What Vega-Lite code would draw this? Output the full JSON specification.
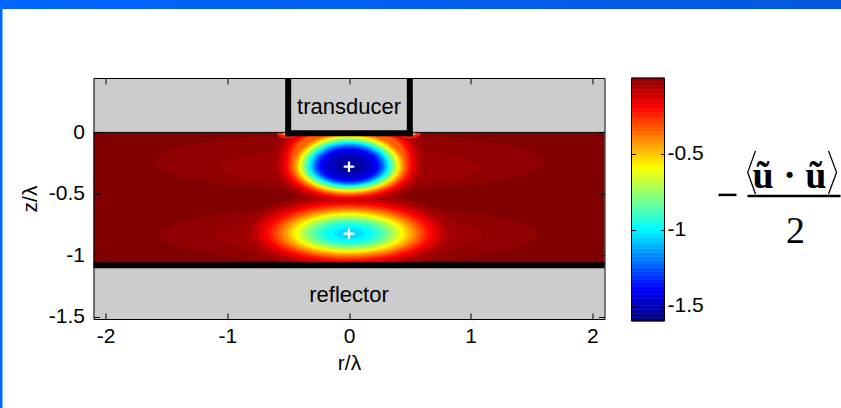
{
  "$schema": "https://vega.github.io/schema/vega-lite/v6.json",
  "padding": 0,
  "background": "white",
  "spacing": 0,
  "config": {
    "font": "Liberation Sans",
    "view": {"stroke": null},
    "axis": {
      "labelFont": "Liberation Sans", "labelFontSize": 21, "labelColor": "#000000",
      "titleFont": "Liberation Sans", "titleFontSize": 21, "titleFontWeight": "normal", "titleColor": "#000000",
      "domainColor": "#000000", "tickColor": "#000000", "grid": false, "labelFlush": false, "labelOverlap": false
    }
  },
  "vconcat": [
    {
      "width": 841, "height": 9,
      "data": {"values": [{"part": "slide header"}]},
      "mark": {"type": "rect", "color": {"gradient": "linear", "stops": [{"offset": 0, "color": "#0066ff"}, {"offset": 1, "color": "#0058dc"}]}},
      "encoding": {
        "x": {"datum": 0, "type": "quantitative", "scale": {"domain": [0, 1], "nice": false}, "axis": null},
        "x2": {"datum": 1},
        "y": {"datum": 0, "type": "quantitative", "scale": {"domain": [0, 1], "nice": false}, "axis": null},
        "y2": {"datum": 1}
      }
    },
    {
      "spacing": 15.5,
      "hconcat": [
        {
          "width": 2.5, "height": 399,
          "data": {"values": [{"part": "slide edge"}]},
          "mark": {"type": "rect", "color": "#0066ff"},
          "encoding": {
            "x": {"datum": 0, "type": "quantitative", "scale": {"domain": [0, 1], "nice": false}, "axis": null},
            "x2": {"datum": 1},
            "y": {"datum": 0, "type": "quantitative", "scale": {"domain": [0, 1], "nice": false}, "axis": null},
            "y2": {"datum": 1}
          }
        },
        {
          "spacing": 67,
          "vconcat": [
            {
              "width": 1, "height": 1,
              "data": {"values": [{"part": "spacer"}]},
              "mark": {"type": "rect", "color": "#ffffff"},
              "encoding": {
                "x": {"datum": 0, "type": "quantitative", "scale": {"domain": [0, 1], "nice": false}, "axis": null},
                "x2": {"datum": 1},
                "y": {"datum": 0, "type": "quantitative", "scale": {"domain": [0, 1], "nice": false}, "axis": null},
                "y2": {"datum": 1}
              }
            },
            {
              "spacing": 25,
              "hconcat": [
                {
                  "width": 511, "height": 241,
                  "layer": [
                    {
                      "data": {"values": [{"part": "water", "r0": -2.1, "r1": 2.1, "z0": -1.08, "z1": 0, "v": 0}]},
                      "mark": {"type": "rect"},
                      "encoding": {
                        "x": {"field": "r0", "type": "quantitative", "scale": {"domain": [-2.1, 2.1], "nice": false, "zero": false}, "axis": null},
                        "x2": {"field": "r1"},
                        "y": {"field": "z0", "type": "quantitative", "scale": {"domain": [-1.517, 0.442], "nice": false, "zero": false}, "axis": null},
                        "y2": {"field": "z1"},
                        "color": {"field": "v", "type": "quantitative", "scale": {"domain": [-1.6, -1.4, -1.0, -0.6, -0.2, 0], "range": ["#000080", "#0000ff", "#00ffff", "#ffff00", "#ff0000", "#800000"], "interpolate": "rgb", "clamp": true, "nice": false, "zero": false}, "legend": null}
                      }
                    },
                    {
                      "data": {"values": [
                        {"g": "wide", "r": 0, "zc": -0.24, "rx": 1.6, "v": -0.025},
                        {"g": "wide", "r": 0, "zc": -0.83, "rx": 1.55, "v": -0.025},
                        {"g": "wide", "r": 0, "zc": -0.28, "rx": 1.05, "v": -0.045},
                        {"g": "wide", "r": 0, "zc": -0.83, "rx": 1.1, "v": -0.045},
                        {"g": "topsq", "r": 0, "zc": -0.275, "rx": 0.64, "v": -0.05},
                        {"g": "bot", "r": 0, "zc": -0.825, "rx": 0.896, "v": -0.05},
                        {"g": "topsq", "r": 0, "zc": -0.275, "rx": 0.585, "v": -0.1},
                        {"g": "bot", "r": 0, "zc": -0.825, "rx": 0.805, "v": -0.1},
                        {"g": "topsq", "r": 0, "zc": -0.275, "rx": 0.55, "v": -0.15},
                        {"g": "bot", "r": 0, "zc": -0.825, "rx": 0.745, "v": -0.15},
                        {"g": "topsq", "r": 0, "zc": -0.275, "rx": 0.525, "v": -0.2},
                        {"g": "bot", "r": 0, "zc": -0.825, "rx": 0.697, "v": -0.2},
                        {"g": "topsq", "r": 0, "zc": -0.275, "rx": 0.505, "v": -0.25},
                        {"g": "bot", "r": 0, "zc": -0.825, "rx": 0.657, "v": -0.25},
                        {"g": "top", "r": -0.5, "zc": -0.005, "rx": 0.09, "v": -0.25},
                        {"g": "top", "r": 0.5, "zc": -0.005, "rx": 0.09, "v": -0.25},
                        {"g": "topsq", "r": 0, "zc": -0.275, "rx": 0.487, "v": -0.3},
                        {"g": "bot", "r": 0, "zc": -0.825, "rx": 0.622, "v": -0.3},
                        {"g": "topsq", "r": 0, "zc": -0.275, "rx": 0.471, "v": -0.35},
                        {"g": "bot", "r": 0, "zc": -0.825, "rx": 0.59, "v": -0.35},
                        {"g": "top", "r": 0, "zc": -0.275, "rx": 0.457, "v": -0.4},
                        {"g": "bot", "r": 0, "zc": -0.825, "rx": 0.559, "v": -0.4},
                        {"g": "top", "r": 0, "zc": -0.275, "rx": 0.444, "v": -0.45},
                        {"g": "bot", "r": 0, "zc": -0.825, "rx": 0.531, "v": -0.45},
                        {"g": "top", "r": -0.5, "zc": -0.005, "rx": 0.05, "v": -0.45},
                        {"g": "top", "r": 0.5, "zc": -0.005, "rx": 0.05, "v": -0.45},
                        {"g": "top", "r": 0, "zc": -0.275, "rx": 0.432, "v": -0.5},
                        {"g": "bot", "r": 0, "zc": -0.825, "rx": 0.503, "v": -0.5},
                        {"g": "top", "r": 0, "zc": -0.275, "rx": 0.421, "v": -0.55},
                        {"g": "bot", "r": 0, "zc": -0.825, "rx": 0.476, "v": -0.55},
                        {"g": "top", "r": 0, "zc": -0.275, "rx": 0.41, "v": -0.6},
                        {"g": "bot", "r": 0, "zc": -0.825, "rx": 0.45, "v": -0.6},
                        {"g": "top", "r": 0, "zc": -0.275, "rx": 0.4, "v": -0.65},
                        {"g": "bot", "r": 0, "zc": -0.825, "rx": 0.423, "v": -0.65},
                        {"g": "top", "r": 0, "zc": -0.275, "rx": 0.39, "v": -0.7},
                        {"g": "bot", "r": 0, "zc": -0.825, "rx": 0.396, "v": -0.7},
                        {"g": "top", "r": 0, "zc": -0.275, "rx": 0.38, "v": -0.75},
                        {"g": "bot", "r": 0, "zc": -0.825, "rx": 0.368, "v": -0.75},
                        {"g": "top", "r": 0, "zc": -0.275, "rx": 0.37, "v": -0.8},
                        {"g": "bot", "r": 0, "zc": -0.825, "rx": 0.34, "v": -0.8},
                        {"g": "top", "r": 0, "zc": -0.275, "rx": 0.36, "v": -0.85},
                        {"g": "bot", "r": 0, "zc": -0.825, "rx": 0.309, "v": -0.85},
                        {"g": "top", "r": 0, "zc": -0.275, "rx": 0.35, "v": -0.9},
                        {"g": "bot", "r": 0, "zc": -0.825, "rx": 0.276, "v": -0.9},
                        {"g": "top", "r": 0, "zc": -0.275, "rx": 0.34, "v": -0.95},
                        {"g": "bot", "r": 0, "zc": -0.825, "rx": 0.238, "v": -0.95},
                        {"g": "top", "r": 0, "zc": -0.275, "rx": 0.33, "v": -1.0},
                        {"g": "bot", "r": 0, "zc": -0.825, "rx": 0.193, "v": -1.0},
                        {"g": "top", "r": 0, "zc": -0.275, "rx": 0.32, "v": -1.05},
                        {"g": "bot", "r": 0, "zc": -0.825, "rx": 0.127, "v": -1.05},
                        {"g": "top", "r": 0, "zc": -0.275, "rx": 0.31, "v": -1.1},
                        {"g": "top", "r": 0, "zc": -0.275, "rx": 0.3, "v": -1.15},
                        {"g": "top", "r": 0, "zc": -0.275, "rx": 0.29, "v": -1.2},
                        {"g": "top", "r": 0, "zc": -0.275, "rx": 0.28, "v": -1.25},
                        {"g": "top", "r": 0, "zc": -0.275, "rx": 0.268, "v": -1.3},
                        {"g": "top", "r": 0, "zc": -0.275, "rx": 0.255, "v": -1.35},
                        {"g": "top", "r": 0, "zc": -0.275, "rx": 0.24, "v": -1.4},
                        {"g": "top", "r": 0, "zc": -0.275, "rx": 0.215, "v": -1.45},
                        {"g": "top", "r": 0, "zc": -0.275, "rx": 0.18, "v": -1.5},
                        {"g": "top", "r": 0, "zc": -0.275, "rx": 0.12, "v": -1.55}
                      ]},
                      "mark": {"type": "point", "filled": true, "opacity": 1, "strokeWidth": 0, "clip": true},
                      "encoding": {
                        "x": {"field": "r", "type": "quantitative", "scale": {"domain": [-2.1, 2.1], "nice": false, "zero": false}, "axis": null},
                        "y": {"field": "zc", "type": "quantitative", "scale": {"domain": [-1.517, 0.442], "nice": false, "zero": false}, "axis": null},
                        "size": {"field": "rx", "type": "quantitative", "scale": {"type": "pow", "exponent": 2, "domain": [0, 1], "range": [0, 59215], "nice": false}, "legend": null},
                        "shape": {"field": "g", "type": "nominal", "scale": {"domain": ["wide", "topsq", "top", "bot"], "range": ["M-1,0A1,0.15 0 0 1 1,0A1,0.15 0 0 1 -1,0Z", "M-1,0C-1,-0.45 -0.75,-0.6 0,-0.6C0.75,-0.6 1,-0.45 1,0A1,0.5 0 0 1 -1,0Z", "M-1,0A1,0.6 0 0 1 1,0A1,0.5 0 0 1 -1,0Z", "M-1,0A1,0.37 0 0 1 1,0A1,0.33 0 0 1 -1,0Z"]}, "legend": null},
                        "color": {"field": "v", "type": "quantitative", "scale": {"domain": [-1.6, -1.4, -1.0, -0.6, -0.2, 0], "range": ["#000080", "#0000ff", "#00ffff", "#ffff00", "#ff0000", "#800000"], "interpolate": "rgb", "clamp": true, "nice": false, "zero": false}, "legend": null},
                        "order": {"field": "v", "type": "quantitative", "sort": "descending"}
                      }
                    },
                    {
                      "data": {"values": [
                        {"part": "above", "r0": -2.1, "r1": 2.1, "z0": 0, "z1": 0.442},
                        {"part": "below", "r0": -2.1, "r1": 2.1, "z0": -1.517, "z1": -1.08}
                      ]},
                      "mark": {"type": "rect", "color": "#cccccc"},
                      "encoding": {
                        "x": {"field": "r0", "type": "quantitative", "scale": {"domain": [-2.1, 2.1], "nice": false, "zero": false},
                          "axis": {"orient": "bottom", "values": [-2, -1, 0, 1, 2], "tickSize": -6, "labelPadding": 12, "title": "r/λ", "titlePadding": 6, "labelExpr": "toString(datum.value)", "zindex": 1}},
                        "x2": {"field": "r1"},
                        "y": {"field": "z0", "type": "quantitative", "scale": {"domain": [-1.517, 0.442], "nice": false, "zero": false},
                          "axis": {"orient": "left", "values": [-1.5, -1, -0.5, 0], "tickSize": -6, "labelPadding": 15, "title": "z/λ", "titlePadding": 8, "labelExpr": "toString(datum.value)", "zindex": 1}},
                        "y2": {"field": "z1"}
                      }
                    },
                    {
                      "data": {"values": [{"part": "boundary", "r0": -2.1, "r1": 2.1, "z": 0}]},
                      "mark": {"type": "rule", "color": "#000000", "strokeWidth": 1},
                      "encoding": {
                        "x": {"field": "r0", "type": "quantitative", "scale": {"domain": [-2.1, 2.1], "nice": false, "zero": false}, "axis": null},
                        "x2": {"field": "r1"},
                        "y": {"field": "z", "type": "quantitative", "scale": {"domain": [-1.517, 0.442], "nice": false, "zero": false}, "axis": null}
                      }
                    },
                    {
                      "data": {"values": [
                        {"part": "transducer left", "r0": -0.5, "r1": -0.5, "z0": -0.008, "z1": 0.442},
                        {"part": "transducer right", "r0": 0.5, "r1": 0.5, "z0": -0.008, "z1": 0.442},
                        {"part": "transducer face", "r0": -0.5, "r1": 0.5, "z0": -0.008, "z1": -0.008},
                        {"part": "reflector", "r0": -2.1, "r1": 2.1, "z0": -1.081, "z1": -1.081}
                      ]},
                      "mark": {"type": "rule", "color": "#000000", "strokeWidth": 6, "strokeCap": "square", "clip": true},
                      "encoding": {
                        "x": {"field": "r0", "type": "quantitative", "scale": {"domain": [-2.1, 2.1], "nice": false, "zero": false},
                          "axis": {"orient": "top", "values": [-2, -1, 0, 1, 2], "tickSize": -6, "labels": false, "title": null, "zindex": 1}},
                        "x2": {"field": "r1"},
                        "y": {"field": "z0", "type": "quantitative", "scale": {"domain": [-1.517, 0.442], "nice": false, "zero": false},
                          "axis": {"orient": "right", "values": [-1.5, -1, -0.5, 0], "tickSize": -6, "labels": false, "title": null, "zindex": 1}},
                        "y2": {"field": "z1"}
                      }
                    },
                    {
                      "data": {"values": [{"r": 0, "z": -0.279}, {"r": 0, "z": -0.824}]},
                      "mark": {"type": "point", "shape": "M-1,0L1,0M0,-1L0,1", "size": 112, "filled": false, "stroke": "#ffffff", "strokeWidth": 2.3, "opacity": 1},
                      "encoding": {
                        "x": {"field": "r", "type": "quantitative", "scale": {"domain": [-2.1, 2.1], "nice": false, "zero": false}, "axis": null},
                        "y": {"field": "z", "type": "quantitative", "scale": {"domain": [-1.517, 0.442], "nice": false, "zero": false}, "axis": null}
                      }
                    },
                    {
                      "data": {"values": [{"label": "transducer", "r": 0, "z": 0.152}, {"label": "reflector", "r": 0, "z": -1.377}]},
                      "mark": {"type": "text", "font": "Liberation Sans", "fontSize": 22, "color": "#000000", "baseline": "alphabetic", "align": "center"},
                      "encoding": {
                        "x": {"field": "r", "type": "quantitative", "scale": {"domain": [-2.1, 2.1], "nice": false, "zero": false}, "axis": null},
                        "y": {"field": "z", "type": "quantitative", "scale": {"domain": [-1.517, 0.442], "nice": false, "zero": false}, "axis": null},
                        "text": {"field": "label"}
                      }
                    }
                  ],
                  "resolve": {"axis": {"x": "independent", "y": "independent"}}
                },
                {
                  "spacing": 10,
                  "hconcat": [
                    {
                      "width": 33, "height": 243,
                      "layer": [
                        {
                          "data": {"values": [
                            {"lo": -1.6, "hi": -1.575}, {"lo": -1.575, "hi": -1.55}, {"lo": -1.55, "hi": -1.525}, {"lo": -1.525, "hi": -1.5},
                            {"lo": -1.5, "hi": -1.475}, {"lo": -1.475, "hi": -1.45}, {"lo": -1.45, "hi": -1.425}, {"lo": -1.425, "hi": -1.4},
                            {"lo": -1.4, "hi": -1.375}, {"lo": -1.375, "hi": -1.35}, {"lo": -1.35, "hi": -1.325}, {"lo": -1.325, "hi": -1.3},
                            {"lo": -1.3, "hi": -1.275}, {"lo": -1.275, "hi": -1.25}, {"lo": -1.25, "hi": -1.225}, {"lo": -1.225, "hi": -1.2},
                            {"lo": -1.2, "hi": -1.175}, {"lo": -1.175, "hi": -1.15}, {"lo": -1.15, "hi": -1.125}, {"lo": -1.125, "hi": -1.1},
                            {"lo": -1.1, "hi": -1.075}, {"lo": -1.075, "hi": -1.05}, {"lo": -1.05, "hi": -1.025}, {"lo": -1.025, "hi": -1},
                            {"lo": -1, "hi": -0.975}, {"lo": -0.975, "hi": -0.95}, {"lo": -0.95, "hi": -0.925}, {"lo": -0.925, "hi": -0.9},
                            {"lo": -0.9, "hi": -0.875}, {"lo": -0.875, "hi": -0.85}, {"lo": -0.85, "hi": -0.825}, {"lo": -0.825, "hi": -0.8},
                            {"lo": -0.8, "hi": -0.775}, {"lo": -0.775, "hi": -0.75}, {"lo": -0.75, "hi": -0.725}, {"lo": -0.725, "hi": -0.7},
                            {"lo": -0.7, "hi": -0.675}, {"lo": -0.675, "hi": -0.65}, {"lo": -0.65, "hi": -0.625}, {"lo": -0.625, "hi": -0.6},
                            {"lo": -0.6, "hi": -0.575}, {"lo": -0.575, "hi": -0.55}, {"lo": -0.55, "hi": -0.525}, {"lo": -0.525, "hi": -0.5},
                            {"lo": -0.5, "hi": -0.475}, {"lo": -0.475, "hi": -0.45}, {"lo": -0.45, "hi": -0.425}, {"lo": -0.425, "hi": -0.4},
                            {"lo": -0.4, "hi": -0.375}, {"lo": -0.375, "hi": -0.35}, {"lo": -0.35, "hi": -0.325}, {"lo": -0.325, "hi": -0.3},
                            {"lo": -0.3, "hi": -0.275}, {"lo": -0.275, "hi": -0.25}, {"lo": -0.25, "hi": -0.225}, {"lo": -0.225, "hi": -0.2},
                            {"lo": -0.2, "hi": -0.175}, {"lo": -0.175, "hi": -0.15}, {"lo": -0.15, "hi": -0.125}, {"lo": -0.125, "hi": -0.1},
                            {"lo": -0.1, "hi": -0.075}, {"lo": -0.075, "hi": -0.05}, {"lo": -0.05, "hi": -0.025}, {"lo": -0.025, "hi": 0}
                          ]},
                          "mark": {"type": "rect", "strokeWidth": 0.6},
                          "encoding": {
                            "x": {"datum": 0, "type": "quantitative", "scale": {"domain": [0, 1], "nice": false, "zero": false}, "axis": null},
                            "x2": {"datum": 1},
                            "y": {"field": "lo", "type": "quantitative", "scale": {"domain": [-1.6, 0], "nice": false, "zero": false},
                              "axis": {"orient": "right", "values": [-1.5, -1, -0.5], "tickSize": -4, "labelPadding": 6.5, "domain": false, "title": null, "labelExpr": "toString(datum.value)", "zindex": 1}},
                            "y2": {"field": "hi"},
                            "color": {"field": "lo", "type": "quantitative", "scale": {"domain": [-1.6, -1.4, -1.0, -0.6, -0.2, 0], "range": ["#000080", "#0000ff", "#00ffff", "#ffff00", "#ff0000", "#800000"], "interpolate": "rgb", "clamp": true, "nice": false, "zero": false}, "legend": null},
                            "stroke": {"field": "lo", "type": "quantitative", "scale": {"domain": [-1.6, -1.4, -1.0, -0.6, -0.2, 0], "range": ["#000080", "#0000ff", "#00ffff", "#ffff00", "#ff0000", "#800000"], "interpolate": "rgb", "clamp": true, "nice": false, "zero": false}, "legend": null}
                          }
                        },
                        {
                          "data": {"values": [{"part": "colorbar frame"}]},
                          "mark": {"type": "rect", "filled": false, "stroke": "#000000", "strokeWidth": 1},
                          "encoding": {
                            "x": {"datum": 0, "type": "quantitative", "scale": {"domain": [0, 1], "nice": false, "zero": false}, "axis": null},
                            "x2": {"datum": 1},
                            "y": {"datum": -1.6, "type": "quantitative", "scale": {"domain": [-1.6, 0], "nice": false, "zero": false},
                              "axis": {"orient": "left", "values": [-1.5, -1, -0.5], "tickSize": -4, "labels": false, "domain": false, "title": null, "zindex": 1}},
                            "y2": {"datum": 0}
                          }
                        }
                      ],
                      "resolve": {"axis": {"y": "independent"}}
                    },
                    {
                      "width": 130, "height": 243,
                      "layer": [
                        {
                          "data": {"values": [
                            {"part": "minus sign", "x1": 0.132, "x2": 0.605, "y": 3.316},
                            {"part": "fraction bar", "x1": 0.895, "x2": 3.342, "y": 3.289}
                          ]},
                          "mark": {"type": "rule", "color": "#000000", "strokeWidth": 2.5},
                          "encoding": {
                            "x": {"field": "x1", "type": "quantitative", "scale": {"domain": [0, 3.42], "nice": false, "zero": false}, "axis": null},
                            "x2": {"field": "x2"},
                            "y": {"field": "y", "type": "quantitative", "scale": {"domain": [0, 6.39], "nice": false, "zero": false}, "axis": null}
                          }
                        },
                        {
                          "data": {"values": [
                            {"side": "left", "k": 0, "x": 1.105, "y": 4.474}, {"side": "left", "k": 1, "x": 0.9, "y": 3.908}, {"side": "left", "k": 2, "x": 1.105, "y": 3.342},
                            {"side": "right", "k": 0, "x": 3.026, "y": 4.474}, {"side": "right", "k": 1, "x": 3.237, "y": 3.908}, {"side": "right", "k": 2, "x": 3.026, "y": 3.342}
                          ]},
                          "mark": {"type": "line", "color": "#000000", "strokeWidth": 1.3},
                          "encoding": {
                            "x": {"field": "x", "type": "quantitative", "scale": {"domain": [0, 3.42], "nice": false, "zero": false}, "axis": null},
                            "y": {"field": "y", "type": "quantitative", "scale": {"domain": [0, 6.39], "nice": false, "zero": false}, "axis": null},
                            "detail": {"field": "side"},
                            "order": {"field": "k"}
                          }
                        },
                        {
                          "data": {"values": [{"t": "ũ · ũ", "x": 2.0, "y": 3.5}]},
                          "mark": {"type": "text", "font": "Liberation Serif", "fontSize": 38, "fontWeight": "bold", "color": "#000000", "align": "center", "baseline": "alphabetic"},
                          "encoding": {
                            "x": {"field": "x", "type": "quantitative", "scale": {"domain": [0, 3.42], "nice": false, "zero": false}, "axis": null},
                            "y": {"field": "y", "type": "quantitative", "scale": {"domain": [0, 6.39], "nice": false, "zero": false}, "axis": null},
                            "text": {"field": "t"}
                          }
                        },
                        {
                          "data": {"values": [{"t": "2", "x": 2.158, "y": 2.053}]},
                          "mark": {"type": "text", "font": "Liberation Serif", "fontSize": 38, "color": "#000000", "align": "center", "baseline": "alphabetic"},
                          "encoding": {
                            "x": {"field": "x", "type": "quantitative", "scale": {"domain": [0, 3.42], "nice": false, "zero": false}, "axis": null},
                            "y": {"field": "y", "type": "quantitative", "scale": {"domain": [0, 6.39], "nice": false, "zero": false}, "axis": null},
                            "text": {"field": "t"}
                          }
                        }
                      ]
                    }
                  ]
                }
              ]
            }
          ]
        }
      ]
    }
  ]
}
